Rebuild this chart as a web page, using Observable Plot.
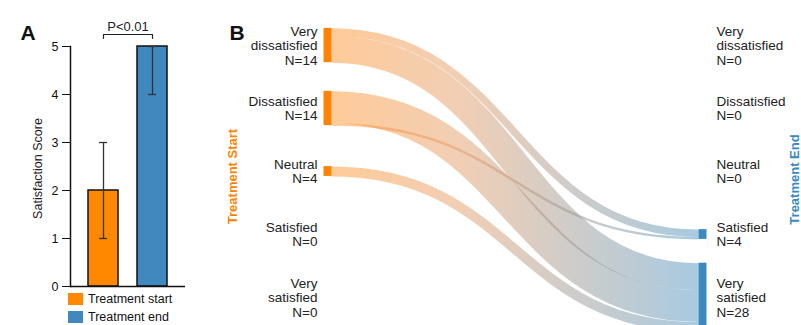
<!DOCTYPE html>
<html>
<head>
<meta charset="utf-8">
<script src="https://cdn.jsdelivr.net/npm/d3@7"></script>
<script src="https://cdn.jsdelivr.net/npm/@observablehq/plot@0.6"></script>
<style>
  body { margin: 0; background: #fff; font-family: "Liberation Sans", Arial, sans-serif; }
  #wrap { position: relative; width: 801px; height: 325px; overflow: hidden; }
  #a { position: absolute; left: 0; top: 0; }
  #b { position: absolute; left: 200px; top: 0; }
  #legend { position: absolute; left: 68px; top: 290px; font-size: 12.5px; color: #111; }
  .sw { display: flex; align-items: center; height: 18px; }
  .sw i { display: inline-block; width: 15px; height: 12px; margin-right: 5px; }
</style>
</head>
<body>
<div id="wrap"><div id="a"></div><div id="b"></div><div id="legend"></div></div>
<script>
// ---------- Panel A data ----------
const groups = ["Treatment start", "Treatment end"];
const scoreMedian = [2, 5];
const scoreLow = [1, 4];
const scoreHigh = [3, 5];
const groupColors = ["#ff8800", "#3f89bf"];
const pLabel = "P<0.01";
const yTicks = [0, 1, 2, 3, 4, 5];

// ---------- Panel B data ----------
const levels = ["Very\ndissatisfied", "Dissatisfied", "Neutral", "Satisfied", "Very\nsatisfied"];
const startCounts = [14, 14, 4, 0, 0];
const endCounts = [0, 0, 0, 4, 28];
const flowFrom = [0, 0, 1, 1, 2];
const flowTo = [3, 4, 4, 3, 4];
const flowCount = [3, 11, 13, 1, 4];
const sideTitles = ["Treatment Start", "Treatment End"];
const sideColors = ["#ff8300", "#3a8abf"];

const FONT = "Liberation Sans, Arial, sans-serif";

// ---------- Panel A ----------
const barData = groups.map((g, i) => ({group: g, v: scoreMedian[i], lo: scoreLow[i], hi: scoreHigh[i]}));
const bracket = [
  {group: groups[0], y: 5.17}, {group: groups[0], y: 5.25},
  {group: groups[1], y: 5.25}, {group: groups[1], y: 5.17}
];
const plotA = Plot.plot({
  width: 200, height: 325,
  marginLeft: 70, marginRight: 15, marginTop: 46, marginBottom: 39,
  style: {fontFamily: FONT, fontSize: "12.5px", color: "#111", background: "transparent", overflow: "visible"},
  x: {domain: groups, padding: 0.39, paddingOuter: 0.36, axis: null},
  y: {domain: [0, 5], axis: null},
  color: {domain: groups, range: groupColors},
  marks: [
    Plot.barY(barData, {x: "group", y: "v", fill: "group", stroke: "#111", strokeWidth: 1.5}),
    Plot.ruleX(barData, {x: "group", y1: "lo", y2: "hi", stroke: "#333", strokeWidth: 1.3}),
    Plot.tickY(barData, {x: "group", y: "lo", stroke: "#333", strokeWidth: 1.3, insetLeft: 11, insetRight: 11}),
    Plot.tickY(barData, {x: "group", y: "hi", stroke: "#333", strokeWidth: 1.3, insetLeft: 11, insetRight: 11}),
    Plot.axisY(yTicks, {tickSize: 8, tickPadding: 4, fontSize: 12.5, label: null, stroke: "#111", fill: "#111"}),
    Plot.frame({anchor: "left", stroke: "#111", strokeWidth: 1.5}),
    Plot.ruleY([0], {stroke: "#111", strokeWidth: 1.5}),
    Plot.text(["Satisfaction Score"], {frameAnchor: "left", textAnchor: "middle", dx: -33, dy: 2, rotate: -90, fontSize: 12.5, fill: "#222"}),
    Plot.line(bracket, {x: "group", y: "y", stroke: "#222", strokeWidth: 1.2}),
    Plot.text([pLabel], {x: () => groups[0], y: 5.42, dx: 24.5, fontSize: 13, fill: "#222"}),
    Plot.text(["A"], {frameAnchor: "top-left", dx: -50, dy: -21, fontSize: 21, fontWeight: "bold", fill: "#111"})
  ]
});
document.getElementById("a").append(plotA);

// legend
const legend = d3.select("#legend");
groups.forEach((g, i) => {
  const row = legend.append("div").attr("class", "sw");
  row.append("i").style("background", groupColors[i]);
  row.append("span").text(g);
});

// ---------- Panel B (Sankey) ----------
const pxPerUnit = 2.45, slotPx = 63, firstSlotPx = 45, H = 325;
const slotY = i => i * slotPx / pxPerUnit;

const startNodes = startCounts.map((n, i) => ({i, n})).filter(d => d.n > 0);
const endNodes = endCounts.map((n, i) => ({i, n})).filter(d => d.n > 0);

const links = flowCount.map((n, k) => ({k, n, from: flowFrom[k], to: flowTo[k]}));
const srcOff = startCounts.map(n => -n / 2);
const tgtOff = endCounts.map(n => -n / 2);
for (const l of links) { l.y1 = slotY(l.from) + srcOff[l.from] + l.n / 2; srcOff[l.from] += l.n; }
for (const l of [...links].sort((a, b) => a.from - b.from || a.k - b.k)) {
  l.y2 = slotY(l.to) + tgtOff[l.to] + l.n / 2; tgtOff[l.to] += l.n;
}

const labelFont = 13.5;
const plotB = Plot.plot({
  width: 601, height: H,
  marginLeft: 131, marginRight: 103, marginTop: 0, marginBottom: 0,
  style: {fontFamily: FONT, background: "transparent", overflow: "visible"},
  x: {domain: [0, 1], axis: null},
  y: {domain: [-firstSlotPx / pxPerUnit, (H - firstSlotPx) / pxPerUnit], reverse: true, axis: null},
  marks: [
    Plot.link(links, {
      x1: 0, x2: 1, y1: "y1", y2: "y2", curve: "bump-x",
      stroke: "#999", strokeOpacity: 0.45, strokeWidth: d => d.n * pxPerUnit
    }),
    Plot.ruleX(startNodes, {x: 0, y1: d => slotY(d.i) - d.n / 2, y2: d => slotY(d.i) + d.n / 2, stroke: sideColors[0], strokeWidth: 8, dx: -4}),
    Plot.ruleX(endNodes, {x: 1, y1: d => slotY(d.i) - d.n / 2, y2: d => slotY(d.i) + d.n / 2, stroke: sideColors[1], strokeWidth: 8, dx: 4}),
    Plot.text(levels, {x: 0, y: (d, i) => slotY(i), text: (d, i) => `${d}\nN=${startCounts[i]}`,
      textAnchor: "end", lineAnchor: "middle", lineHeight: 1.07, dx: -14, fontSize: labelFont, fill: "#222"}),
    Plot.text(levels, {x: 1, y: (d, i) => slotY(i), text: (d, i) => `${d}\nN=${endCounts[i]}`,
      textAnchor: "start", lineAnchor: "middle", lineHeight: 1.07, dx: 18, fontSize: labelFont, fill: "#222"}),
    Plot.text([sideTitles[0]], {x: 0, y: slotY(2), dx: -99, dy: 5, rotate: -90, fontSize: 13, fontWeight: "bold", fill: sideColors[0]}),
    Plot.text([sideTitles[1]], {x: 1, y: slotY(2), dx: 96, dy: 8, rotate: -90, fontSize: 13, fontWeight: "bold", fill: sideColors[1]}),
    Plot.text(["B"], {frameAnchor: "top-left", dx: -102, dy: 25, fontSize: 21, fontWeight: "bold", fill: "#111"})
  ]
});

// horizontal gradient for the flows
const xs = plotB.scale("x");
const svgB = d3.select(plotB);
const grad = svgB.insert("defs", ":first-child").append("linearGradient")
  .attr("id", "flowGrad").attr("gradientUnits", "userSpaceOnUse")
  .attr("x1", xs.apply(0)).attr("x2", xs.apply(1)).attr("y1", 0).attr("y2", 0);
grad.append("stop").attr("offset", "0%").attr("stop-color", "#ff8a1a");
grad.append("stop").attr("offset", "35%").attr("stop-color", "#e0935a");
grad.append("stop").attr("offset", "100%").attr("stop-color", "#3f89bb");
svgB.selectAll("[stroke='#999']").attr("stroke", "url(#flowGrad)");
document.getElementById("b").append(plotB);
</script>
</body>
</html>
